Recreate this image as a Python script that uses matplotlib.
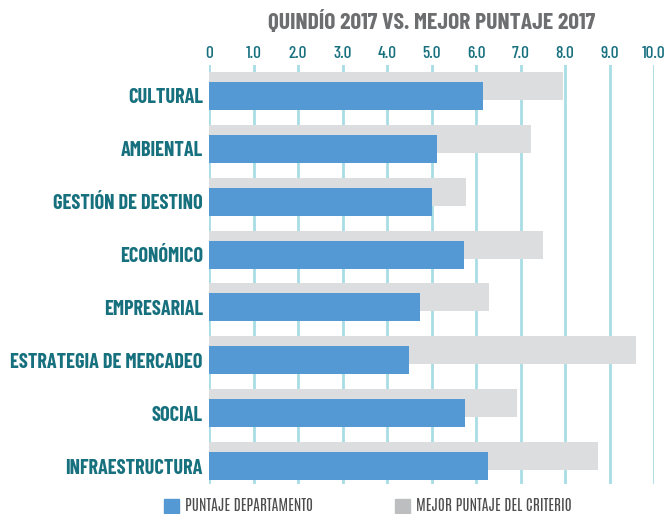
import matplotlib.pyplot as plt
from matplotlib.patches import Patch
import numpy as np

plt.rcParams['font.family'] = ['Barlow Condensed', 'DejaVu Sans']

categorias = ["CULTURAL", "AMBIENTAL", "GESTIÓN DE DESTINO", "ECONÓMICO",
              "EMPRESARIAL", "ESTRATEGIA DE MERCADEO", "SOCIAL", "INFRAESTRUCTURA"]
puntaje_depto = [6.15, 5.12, 5.01, 5.72, 4.73, 4.49, 5.76, 6.26]
mejor_puntaje = [7.95, 7.23, 5.77, 7.50, 6.29, 9.60, 6.91, 8.74]
ticks = np.arange(0, 11, 1)
tick_labels = ["0"] + [f"{t:.1f}" for t in ticks[1:]]

azul = "#5499d3"
gris = "#dcddde"
teal = "#17707e"
rejilla = "#a9dde5"

fig = plt.figure(figsize=(6.65, 5.14), dpi=100)
ax = fig.add_axes([0.3143, 0.0584, 0.6692, 0.8151])

y = np.arange(len(categorias))
# barra gris (mejor puntaje) desplazada hacia arriba, detrás de la azul
ax.barh(y - 0.19, mejor_puntaje, height=0.53, color=gris, zorder=2)
ax.barh(y, puntaje_depto, height=0.53, color=azul, zorder=3)

ax.set_xlim(0, 10)
ax.set_ylim(7.34, -0.586)
ax.set_xticks(ticks)
ax.set_xticklabels(tick_labels, fontweight=500)
ax.xaxis.tick_top()
ax.tick_params(axis="x", length=0, pad=3, labelsize=12.5, labelcolor=teal)
ax.set_yticks(y)
ax.set_yticklabels(categorias, fontweight=700, fontsize=14.6, color=teal)
ax.tick_params(axis="y", length=0, pad=4.5)
for t in ticks:
    ax.axvline(t, color=rejilla, lw=2, zorder=1)
for s in ax.spines.values():
    s.set_visible(False)

fig.text(0.649, 0.959, "QUINDÍO 2017 VS. MEJOR PUNTAJE 2017", ha="center", va="center",
         fontsize=17, fontweight=700, color="#6d6e70")

handles = [Patch(color=azul), Patch(color="#bcbec0")]
fig.legend(handles, ["PUNTAJE DEPARTAMENTO", "MEJOR PUNTAJE DEL CRITERIO"], ncol=2,
           loc="center left", bbox_to_anchor=(0.237, 0.016), frameon=False,
           prop={"family": ["Antonio", "DejaVu Sans"], "size": 11},
           labelcolor="#4d4d4f", handlelength=1.0, handleheight=1.0,
           handletextpad=0.4, columnspacing=5.35, borderaxespad=0)

fig.savefig("out.png", dpi=100)
